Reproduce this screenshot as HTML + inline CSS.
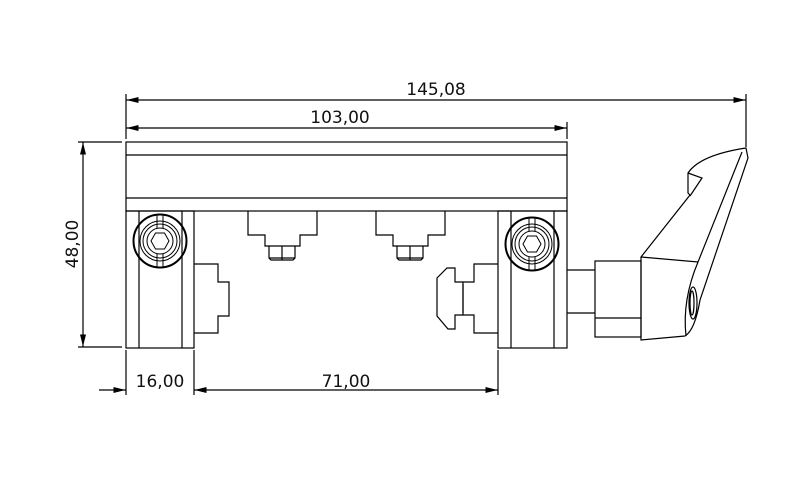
<!DOCTYPE html>
<html><head><meta charset="utf-8"><style>
html,body{margin:0;padding:0;background:#fff;}
svg{display:block}
text{font-family:"DejaVu Sans","Liberation Sans",sans-serif;font-size:17px;fill:#111}
</style></head><body>
<svg width="811" height="488" viewBox="0 0 811 488" xmlns="http://www.w3.org/2000/svg">
<defs>
<marker id="a" viewBox="0 0 12 6" refX="12" refY="3" markerWidth="12" markerHeight="6" orient="auto" markerUnits="userSpaceOnUse"><path d="M0,0 L12,3 L0,6 Z" fill="#000"/></marker>
</defs>
<g stroke="#000" stroke-width="1.2" fill="none">
<!-- dimension extension lines -->
<line x1="126" y1="94" x2="126" y2="139"/>
<line x1="746" y1="94" x2="746" y2="147"/>
<line x1="567" y1="122" x2="567" y2="139"/>
<line x1="78" y1="142" x2="122" y2="142"/>
<line x1="78" y1="347" x2="122" y2="347"/>
<line x1="126" y1="350" x2="126" y2="395"/>
<line x1="194" y1="350" x2="194" y2="395"/>
<line x1="498" y1="350" x2="498" y2="395"/>
<!-- dimension lines -->
<line x1="436" y1="100" x2="126.5" y2="100" marker-end="url(#a)"/>
<line x1="436" y1="100" x2="745.5" y2="100" marker-end="url(#a)"/>
<line x1="340" y1="128" x2="126.5" y2="128" marker-end="url(#a)"/>
<line x1="340" y1="128" x2="566.5" y2="128" marker-end="url(#a)"/>
<line x1="83" y1="245" x2="83" y2="142.5" marker-end="url(#a)"/>
<line x1="83" y1="245" x2="83" y2="346.5" marker-end="url(#a)"/>
<line x1="99" y1="390" x2="125.5" y2="390" marker-end="url(#a)"/>
<line x1="346" y1="390" x2="194.5" y2="390" marker-end="url(#a)"/>
<line x1="346" y1="390" x2="497.5" y2="390" marker-end="url(#a)"/>
<!-- rail -->
<rect x="126" y="142" width="441" height="69"/>
<line x1="126" y1="155" x2="567" y2="155"/>
<line x1="126" y1="198" x2="567" y2="198"/>
<!-- left block -->
<rect x="126" y="211" width="68" height="137"/>
<line x1="139" y1="211" x2="139" y2="348"/>
<line x1="182" y1="211" x2="182" y2="348"/>
<!-- right block -->
<rect x="498" y="211" width="69" height="137"/>
<line x1="511" y1="211" x2="511" y2="348"/>
<line x1="554" y1="211" x2="554" y2="348"/>
<!-- left clamp -->
<path d="M194,264 H218 V282 H229 V316 H218 V333 H194"/>
<!-- right clamp -->
<path d="M498,264 H474 V282 H463 V315 H474 V333 H498"/>
<path d="M463,282 H455 V268 H447 L437,278 V316 L448,329 H455 V315 H463"/>
<line x1="463" y1="284" x2="463" y2="313"/>
<!-- T nuts -->
<path d="M248,211 V235 H265 V246 H300 V235 H317 V211"/>
<path d="M269,246 V258 L271,260 H293 L295,258 V246 M282,246 V260 M269,258 H295"/>
<path d="M376,211 V235 H393 V246 H428 V235 H445 V211"/>
<path d="M397,246 V258 L399,260 H421 L423,258 V246 M410,246 V260 M397,258 H423"/>
<!-- shaft & cylinder -->
<line x1="567" y1="270" x2="595" y2="270"/>
<line x1="567" y1="313" x2="595" y2="313"/>
<rect x="595" y="261" width="46" height="76"/>
<line x1="595" y1="318" x2="641" y2="318"/>
<!-- handle -->
<path d="M641,257 L690,195 L688,193 L688,173 Q700,155 746,148 L748,158 L700,300 Q695,330 685,336 L641,340 Z"/>
<path d="M641,257 L698,262 L742,152"/>
<path d="M688,173 L702,178 L690,196"/>
<path d="M698,262 Q682,300 686,336"/>
<ellipse cx="693" cy="303" rx="4" ry="16"/>
<ellipse cx="692" cy="303" rx="2" ry="12"/>
</g>
<!-- bolts -->
<g stroke="#000" fill="none">
<circle cx="160" cy="241" r="26.5" stroke-width="2"/>
<circle cx="160" cy="241" r="20" stroke-width="1"/>
<circle cx="160" cy="241" r="17" stroke-width="1"/>
<circle cx="160" cy="241" r="13" stroke-width="1"/>
<polygon points="151,241 155.5,233 164.5,233 169,241 164.5,249 155.5,249" stroke-width="1"/>
<path d="M157,215 V228 M163,215 V228 M157,254 V267 M163,254 V267" stroke-width="1"/>
<circle cx="532" cy="244" r="26.5" stroke-width="2"/>
<circle cx="532" cy="244" r="20" stroke-width="1"/>
<circle cx="532" cy="244" r="17" stroke-width="1"/>
<circle cx="532" cy="244" r="13" stroke-width="1"/>
<polygon points="523,244 527.5,236 536.5,236 541,244 536.5,252 527.5,252" stroke-width="1"/>
<path d="M529,218 V231 M535,218 V231 M529,257 V270 M535,257 V270" stroke-width="1"/>
</g>
<!-- labels -->
<text x="436" y="95" text-anchor="middle">145,08</text>
<text x="340" y="123" text-anchor="middle">103,00</text>
<text x="160" y="387" text-anchor="middle">16,00</text>
<text x="346" y="387" text-anchor="middle">71,00</text>
<text transform="translate(78,244) rotate(-90)" text-anchor="middle">48,00</text>
</svg>
</body></html>
